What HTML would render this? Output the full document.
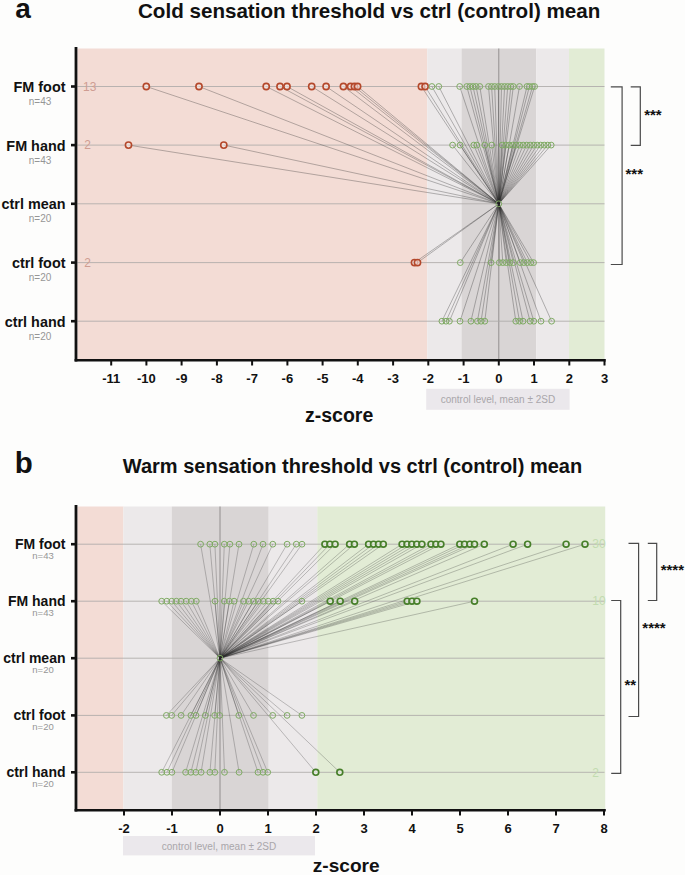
<!DOCTYPE html>
<html><head><meta charset="utf-8"><title>Thermal thresholds</title>
<style>html,body{margin:0;padding:0;background:#fdfdfc;}svg{display:block;}text{font-family:"Liberation Sans",sans-serif;}</style>
</head><body>
<svg width="685" height="875" viewBox="0 0 685 875" font-family="Liberation Sans, sans-serif">
<rect width="685" height="875" fill="#fdfdfc"/>
<rect x="77.5" y="48.5" width="349.8" height="310.5" fill="#f3dcd5"/>
<rect x="427.3" y="48.5" width="34.2" height="310.5" fill="#ece9ea"/>
<rect x="461.5" y="48.5" width="74.7" height="310.5" fill="#d9d5d5"/>
<rect x="536.2" y="48.5" width="32.8" height="310.5" fill="#ece9ea"/>
<rect x="569" y="48.5" width="35.5" height="310.5" fill="#e2ecd5"/>
<line x1="498.8" y1="48.5" x2="498.8" y2="359" stroke="#8a8686" stroke-width="0.9"/>
<line x1="77.5" y1="86.5" x2="604.5" y2="86.5" stroke="#aeaaa9" stroke-width="0.85"/>
<line x1="77.5" y1="145.1" x2="604.5" y2="145.1" stroke="#aeaaa9" stroke-width="0.85"/>
<line x1="77.5" y1="203.8" x2="604.5" y2="203.8" stroke="#aeaaa9" stroke-width="0.85"/>
<line x1="77.5" y1="262.6" x2="604.5" y2="262.6" stroke="#aeaaa9" stroke-width="0.85"/>
<line x1="77.5" y1="321.2" x2="604.5" y2="321.2" stroke="#aeaaa9" stroke-width="0.85"/>
<g stroke="#2a2a2a" stroke-width="0.6" stroke-opacity="0.55">
<line x1="146.3" y1="86.5" x2="498.8" y2="203.8"/>
<line x1="199" y1="86.5" x2="498.8" y2="203.8"/>
<line x1="266.2" y1="86.5" x2="498.8" y2="203.8"/>
<line x1="280" y1="86.5" x2="498.8" y2="203.8"/>
<line x1="287" y1="86.5" x2="498.8" y2="203.8"/>
<line x1="311.7" y1="86.5" x2="498.8" y2="203.8"/>
<line x1="326.1" y1="86.5" x2="498.8" y2="203.8"/>
<line x1="343.4" y1="86.5" x2="498.8" y2="203.8"/>
<line x1="350.6" y1="86.5" x2="498.8" y2="203.8"/>
<line x1="354.4" y1="86.5" x2="498.8" y2="203.8"/>
<line x1="357.6" y1="86.5" x2="498.8" y2="203.8"/>
<line x1="421.4" y1="86.5" x2="498.8" y2="203.8"/>
<line x1="425.1" y1="86.5" x2="498.8" y2="203.8"/>
<line x1="431.9" y1="86.5" x2="498.8" y2="203.8"/>
<line x1="438.8" y1="86.5" x2="498.8" y2="203.8"/>
<line x1="459.7" y1="86.5" x2="498.8" y2="203.8"/>
<line x1="466.8" y1="86.5" x2="498.8" y2="203.8"/>
<line x1="469.9" y1="86.5" x2="498.8" y2="203.8"/>
<line x1="473" y1="86.5" x2="498.8" y2="203.8"/>
<line x1="476.1" y1="86.5" x2="498.8" y2="203.8"/>
<line x1="479.8" y1="86.5" x2="498.8" y2="203.8"/>
<line x1="488.5" y1="86.5" x2="498.8" y2="203.8"/>
<line x1="491.6" y1="86.5" x2="498.8" y2="203.8"/>
<line x1="494.7" y1="86.5" x2="498.8" y2="203.8"/>
<line x1="498.4" y1="86.5" x2="498.8" y2="203.8"/>
<line x1="501.5" y1="86.5" x2="498.8" y2="203.8"/>
<line x1="504.6" y1="86.5" x2="498.8" y2="203.8"/>
<line x1="507.7" y1="86.5" x2="498.8" y2="203.8"/>
<line x1="510.8" y1="86.5" x2="498.8" y2="203.8"/>
<line x1="513.3" y1="86.5" x2="498.8" y2="203.8"/>
<line x1="519.5" y1="86.5" x2="498.8" y2="203.8"/>
<line x1="527" y1="86.5" x2="498.8" y2="203.8"/>
<line x1="529.4" y1="86.5" x2="498.8" y2="203.8"/>
<line x1="532.5" y1="86.5" x2="498.8" y2="203.8"/>
<line x1="534.6" y1="86.5" x2="498.8" y2="203.8"/>
<line x1="128.5" y1="145.1" x2="498.8" y2="203.8"/>
<line x1="223.8" y1="145.1" x2="498.8" y2="203.8"/>
<line x1="452.6" y1="145.1" x2="498.8" y2="203.8"/>
<line x1="460.1" y1="145.1" x2="498.8" y2="203.8"/>
<line x1="473.8" y1="145.1" x2="498.8" y2="203.8"/>
<line x1="476.8" y1="145.1" x2="498.8" y2="203.8"/>
<line x1="484.7" y1="145.1" x2="498.8" y2="203.8"/>
<line x1="491.7" y1="145.1" x2="498.8" y2="203.8"/>
<line x1="502.2" y1="145.1" x2="498.8" y2="203.8"/>
<line x1="505.7" y1="145.1" x2="498.8" y2="203.8"/>
<line x1="509.2" y1="145.1" x2="498.8" y2="203.8"/>
<line x1="512.7" y1="145.1" x2="498.8" y2="203.8"/>
<line x1="516.2" y1="145.1" x2="498.8" y2="203.8"/>
<line x1="519.7" y1="145.1" x2="498.8" y2="203.8"/>
<line x1="523.2" y1="145.1" x2="498.8" y2="203.8"/>
<line x1="526.7" y1="145.1" x2="498.8" y2="203.8"/>
<line x1="530.2" y1="145.1" x2="498.8" y2="203.8"/>
<line x1="533.7" y1="145.1" x2="498.8" y2="203.8"/>
<line x1="537.2" y1="145.1" x2="498.8" y2="203.8"/>
<line x1="540.7" y1="145.1" x2="498.8" y2="203.8"/>
<line x1="544.2" y1="145.1" x2="498.8" y2="203.8"/>
<line x1="547.7" y1="145.1" x2="498.8" y2="203.8"/>
<line x1="551.2" y1="145.1" x2="498.8" y2="203.8"/>
<line x1="414.5" y1="262.6" x2="498.8" y2="203.8"/>
<line x1="417.5" y1="262.6" x2="498.8" y2="203.8"/>
<line x1="460.3" y1="262.6" x2="498.8" y2="203.8"/>
<line x1="491.1" y1="262.6" x2="498.8" y2="203.8"/>
<line x1="499.3" y1="262.6" x2="498.8" y2="203.8"/>
<line x1="502.8" y1="262.6" x2="498.8" y2="203.8"/>
<line x1="506.3" y1="262.6" x2="498.8" y2="203.8"/>
<line x1="509.8" y1="262.6" x2="498.8" y2="203.8"/>
<line x1="513.3" y1="262.6" x2="498.8" y2="203.8"/>
<line x1="520.3" y1="262.6" x2="498.8" y2="203.8"/>
<line x1="523.8" y1="262.6" x2="498.8" y2="203.8"/>
<line x1="527.3" y1="262.6" x2="498.8" y2="203.8"/>
<line x1="530.8" y1="262.6" x2="498.8" y2="203.8"/>
<line x1="533.6" y1="262.6" x2="498.8" y2="203.8"/>
<line x1="441.9" y1="321.2" x2="498.8" y2="203.8"/>
<line x1="446" y1="321.2" x2="498.8" y2="203.8"/>
<line x1="449.4" y1="321.2" x2="498.8" y2="203.8"/>
<line x1="460" y1="321.2" x2="498.8" y2="203.8"/>
<line x1="470.9" y1="321.2" x2="498.8" y2="203.8"/>
<line x1="477.4" y1="321.2" x2="498.8" y2="203.8"/>
<line x1="481.1" y1="321.2" x2="498.8" y2="203.8"/>
<line x1="484.8" y1="321.2" x2="498.8" y2="203.8"/>
<line x1="515.8" y1="321.2" x2="498.8" y2="203.8"/>
<line x1="519.5" y1="321.2" x2="498.8" y2="203.8"/>
<line x1="523" y1="321.2" x2="498.8" y2="203.8"/>
<line x1="530.1" y1="321.2" x2="498.8" y2="203.8"/>
<line x1="533.8" y1="321.2" x2="498.8" y2="203.8"/>
<line x1="541" y1="321.2" x2="498.8" y2="203.8"/>
<line x1="551.6" y1="321.2" x2="498.8" y2="203.8"/>
</g>
<circle cx="146.3" cy="86.5" r="3.1" fill="#f6e8e4" fill-opacity="0.6" stroke="#b4482b" stroke-width="1.6"/>
<circle cx="199" cy="86.5" r="3.1" fill="#f6e8e4" fill-opacity="0.6" stroke="#b4482b" stroke-width="1.6"/>
<circle cx="266.2" cy="86.5" r="3.1" fill="#f6e8e4" fill-opacity="0.6" stroke="#b4482b" stroke-width="1.6"/>
<circle cx="280" cy="86.5" r="3.1" fill="#f6e8e4" fill-opacity="0.6" stroke="#b4482b" stroke-width="1.6"/>
<circle cx="287" cy="86.5" r="3.1" fill="#f6e8e4" fill-opacity="0.6" stroke="#b4482b" stroke-width="1.6"/>
<circle cx="311.7" cy="86.5" r="3.1" fill="#f6e8e4" fill-opacity="0.6" stroke="#b4482b" stroke-width="1.6"/>
<circle cx="326.1" cy="86.5" r="3.1" fill="#f6e8e4" fill-opacity="0.6" stroke="#b4482b" stroke-width="1.6"/>
<circle cx="343.4" cy="86.5" r="3.1" fill="#f6e8e4" fill-opacity="0.6" stroke="#b4482b" stroke-width="1.6"/>
<circle cx="350.6" cy="86.5" r="3.1" fill="#f6e8e4" fill-opacity="0.6" stroke="#b4482b" stroke-width="1.6"/>
<circle cx="354.4" cy="86.5" r="3.1" fill="#f6e8e4" fill-opacity="0.6" stroke="#b4482b" stroke-width="1.6"/>
<circle cx="357.6" cy="86.5" r="3.1" fill="#f6e8e4" fill-opacity="0.6" stroke="#b4482b" stroke-width="1.6"/>
<circle cx="421.4" cy="86.5" r="3.1" fill="#f6e8e4" fill-opacity="0.6" stroke="#b4482b" stroke-width="1.6"/>
<circle cx="425.1" cy="86.5" r="3.1" fill="#f6e8e4" fill-opacity="0.6" stroke="#b4482b" stroke-width="1.6"/>
<circle cx="431.9" cy="86.5" r="2.9" fill="none" stroke="#7eaa62" stroke-width="1"/>
<circle cx="438.8" cy="86.5" r="2.9" fill="none" stroke="#7eaa62" stroke-width="1"/>
<circle cx="459.7" cy="86.5" r="2.9" fill="none" stroke="#7eaa62" stroke-width="1"/>
<circle cx="466.8" cy="86.5" r="2.9" fill="none" stroke="#7eaa62" stroke-width="1"/>
<circle cx="469.9" cy="86.5" r="2.9" fill="none" stroke="#7eaa62" stroke-width="1"/>
<circle cx="473" cy="86.5" r="2.9" fill="none" stroke="#7eaa62" stroke-width="1"/>
<circle cx="476.1" cy="86.5" r="2.9" fill="none" stroke="#7eaa62" stroke-width="1"/>
<circle cx="479.8" cy="86.5" r="2.9" fill="none" stroke="#7eaa62" stroke-width="1"/>
<circle cx="488.5" cy="86.5" r="2.9" fill="none" stroke="#7eaa62" stroke-width="1"/>
<circle cx="491.6" cy="86.5" r="2.9" fill="none" stroke="#7eaa62" stroke-width="1"/>
<circle cx="494.7" cy="86.5" r="2.9" fill="none" stroke="#7eaa62" stroke-width="1"/>
<circle cx="498.4" cy="86.5" r="2.9" fill="none" stroke="#7eaa62" stroke-width="1"/>
<circle cx="501.5" cy="86.5" r="2.9" fill="none" stroke="#7eaa62" stroke-width="1"/>
<circle cx="504.6" cy="86.5" r="2.9" fill="none" stroke="#7eaa62" stroke-width="1"/>
<circle cx="507.7" cy="86.5" r="2.9" fill="none" stroke="#7eaa62" stroke-width="1"/>
<circle cx="510.8" cy="86.5" r="2.9" fill="none" stroke="#7eaa62" stroke-width="1"/>
<circle cx="513.3" cy="86.5" r="2.9" fill="none" stroke="#7eaa62" stroke-width="1"/>
<circle cx="519.5" cy="86.5" r="2.9" fill="none" stroke="#7eaa62" stroke-width="1"/>
<circle cx="527" cy="86.5" r="2.9" fill="none" stroke="#7eaa62" stroke-width="1"/>
<circle cx="529.4" cy="86.5" r="2.9" fill="none" stroke="#7eaa62" stroke-width="1"/>
<circle cx="532.5" cy="86.5" r="2.9" fill="none" stroke="#7eaa62" stroke-width="1"/>
<circle cx="534.6" cy="86.5" r="2.9" fill="none" stroke="#7eaa62" stroke-width="1"/>
<circle cx="128.5" cy="145.1" r="3.1" fill="#f6e8e4" fill-opacity="0.6" stroke="#b4482b" stroke-width="1.6"/>
<circle cx="223.8" cy="145.1" r="3.1" fill="#f6e8e4" fill-opacity="0.6" stroke="#b4482b" stroke-width="1.6"/>
<circle cx="452.6" cy="145.1" r="2.9" fill="none" stroke="#7eaa62" stroke-width="1"/>
<circle cx="460.1" cy="145.1" r="2.9" fill="none" stroke="#7eaa62" stroke-width="1"/>
<circle cx="473.8" cy="145.1" r="2.9" fill="none" stroke="#7eaa62" stroke-width="1"/>
<circle cx="476.8" cy="145.1" r="2.9" fill="none" stroke="#7eaa62" stroke-width="1"/>
<circle cx="484.7" cy="145.1" r="2.9" fill="none" stroke="#7eaa62" stroke-width="1"/>
<circle cx="491.7" cy="145.1" r="2.9" fill="none" stroke="#7eaa62" stroke-width="1"/>
<circle cx="502.2" cy="145.1" r="2.9" fill="none" stroke="#7eaa62" stroke-width="1"/>
<circle cx="505.7" cy="145.1" r="2.9" fill="none" stroke="#7eaa62" stroke-width="1"/>
<circle cx="509.2" cy="145.1" r="2.9" fill="none" stroke="#7eaa62" stroke-width="1"/>
<circle cx="512.7" cy="145.1" r="2.9" fill="none" stroke="#7eaa62" stroke-width="1"/>
<circle cx="516.2" cy="145.1" r="2.9" fill="none" stroke="#7eaa62" stroke-width="1"/>
<circle cx="519.7" cy="145.1" r="2.9" fill="none" stroke="#7eaa62" stroke-width="1"/>
<circle cx="523.2" cy="145.1" r="2.9" fill="none" stroke="#7eaa62" stroke-width="1"/>
<circle cx="526.7" cy="145.1" r="2.9" fill="none" stroke="#7eaa62" stroke-width="1"/>
<circle cx="530.2" cy="145.1" r="2.9" fill="none" stroke="#7eaa62" stroke-width="1"/>
<circle cx="533.7" cy="145.1" r="2.9" fill="none" stroke="#7eaa62" stroke-width="1"/>
<circle cx="537.2" cy="145.1" r="2.9" fill="none" stroke="#7eaa62" stroke-width="1"/>
<circle cx="540.7" cy="145.1" r="2.9" fill="none" stroke="#7eaa62" stroke-width="1"/>
<circle cx="544.2" cy="145.1" r="2.9" fill="none" stroke="#7eaa62" stroke-width="1"/>
<circle cx="547.7" cy="145.1" r="2.9" fill="none" stroke="#7eaa62" stroke-width="1"/>
<circle cx="551.2" cy="145.1" r="2.9" fill="none" stroke="#7eaa62" stroke-width="1"/>
<circle cx="414.5" cy="262.6" r="3.1" fill="#f6e8e4" fill-opacity="0.6" stroke="#b4482b" stroke-width="1.6"/>
<circle cx="417.5" cy="262.6" r="3.1" fill="#f6e8e4" fill-opacity="0.6" stroke="#b4482b" stroke-width="1.6"/>
<circle cx="460.3" cy="262.6" r="2.9" fill="none" stroke="#7eaa62" stroke-width="1"/>
<circle cx="491.1" cy="262.6" r="2.9" fill="none" stroke="#7eaa62" stroke-width="1"/>
<circle cx="499.3" cy="262.6" r="2.9" fill="none" stroke="#7eaa62" stroke-width="1"/>
<circle cx="502.8" cy="262.6" r="2.9" fill="none" stroke="#7eaa62" stroke-width="1"/>
<circle cx="506.3" cy="262.6" r="2.9" fill="none" stroke="#7eaa62" stroke-width="1"/>
<circle cx="509.8" cy="262.6" r="2.9" fill="none" stroke="#7eaa62" stroke-width="1"/>
<circle cx="513.3" cy="262.6" r="2.9" fill="none" stroke="#7eaa62" stroke-width="1"/>
<circle cx="520.3" cy="262.6" r="2.9" fill="none" stroke="#7eaa62" stroke-width="1"/>
<circle cx="523.8" cy="262.6" r="2.9" fill="none" stroke="#7eaa62" stroke-width="1"/>
<circle cx="527.3" cy="262.6" r="2.9" fill="none" stroke="#7eaa62" stroke-width="1"/>
<circle cx="530.8" cy="262.6" r="2.9" fill="none" stroke="#7eaa62" stroke-width="1"/>
<circle cx="533.6" cy="262.6" r="2.9" fill="none" stroke="#7eaa62" stroke-width="1"/>
<circle cx="441.9" cy="321.2" r="2.9" fill="none" stroke="#7eaa62" stroke-width="1"/>
<circle cx="446" cy="321.2" r="2.9" fill="none" stroke="#7eaa62" stroke-width="1"/>
<circle cx="449.4" cy="321.2" r="2.9" fill="none" stroke="#7eaa62" stroke-width="1"/>
<circle cx="460" cy="321.2" r="2.9" fill="none" stroke="#7eaa62" stroke-width="1"/>
<circle cx="470.9" cy="321.2" r="2.9" fill="none" stroke="#7eaa62" stroke-width="1"/>
<circle cx="477.4" cy="321.2" r="2.9" fill="none" stroke="#7eaa62" stroke-width="1"/>
<circle cx="481.1" cy="321.2" r="2.9" fill="none" stroke="#7eaa62" stroke-width="1"/>
<circle cx="484.8" cy="321.2" r="2.9" fill="none" stroke="#7eaa62" stroke-width="1"/>
<circle cx="515.8" cy="321.2" r="2.9" fill="none" stroke="#7eaa62" stroke-width="1"/>
<circle cx="519.5" cy="321.2" r="2.9" fill="none" stroke="#7eaa62" stroke-width="1"/>
<circle cx="523" cy="321.2" r="2.9" fill="none" stroke="#7eaa62" stroke-width="1"/>
<circle cx="530.1" cy="321.2" r="2.9" fill="none" stroke="#7eaa62" stroke-width="1"/>
<circle cx="533.8" cy="321.2" r="2.9" fill="none" stroke="#7eaa62" stroke-width="1"/>
<circle cx="541" cy="321.2" r="2.9" fill="none" stroke="#7eaa62" stroke-width="1"/>
<circle cx="551.6" cy="321.2" r="2.9" fill="none" stroke="#7eaa62" stroke-width="1"/>
<circle cx="498.8" cy="203.8" r="2.9" fill="none" stroke="#7eaa62" stroke-width="1"/>
<text x="83" y="90.7" font-size="12" fill="#cf9d92">13</text>
<text x="84.3" y="149.29999999999998" font-size="12" fill="#cf9d92">2</text>
<text x="84.3" y="266.8" font-size="12" fill="#cf9d92">2</text>
<line x1="76" y1="47.0" x2="76" y2="361.5" stroke="#111" stroke-width="2.8"/>
<line x1="74.6" y1="360.3" x2="605.8" y2="360.3" stroke="#111" stroke-width="2.6"/>
<line x1="71" y1="86.5" x2="76" y2="86.5" stroke="#111" stroke-width="2.6"/>
<text x="65.5" y="91.9" font-size="14.4" font-weight="bold" fill="#111" text-anchor="end">FM foot</text>
<text x="40" y="105.1" font-size="10" fill="#969696" text-anchor="middle">n=43</text>
<line x1="71" y1="145.1" x2="76" y2="145.1" stroke="#111" stroke-width="2.6"/>
<text x="65.5" y="150.5" font-size="14.4" font-weight="bold" fill="#111" text-anchor="end">FM hand</text>
<text x="40" y="163.7" font-size="10" fill="#969696" text-anchor="middle">n=43</text>
<line x1="71" y1="203.8" x2="76" y2="203.8" stroke="#111" stroke-width="2.6"/>
<text x="65.5" y="209.20000000000002" font-size="14.4" font-weight="bold" fill="#111" text-anchor="end">ctrl mean</text>
<text x="40" y="222.4" font-size="10" fill="#969696" text-anchor="middle">n=20</text>
<line x1="71" y1="262.6" x2="76" y2="262.6" stroke="#111" stroke-width="2.6"/>
<text x="65.5" y="268.0" font-size="14.4" font-weight="bold" fill="#111" text-anchor="end">ctrl foot</text>
<text x="40" y="281.20000000000005" font-size="10" fill="#969696" text-anchor="middle">n=20</text>
<line x1="71" y1="321.2" x2="76" y2="321.2" stroke="#111" stroke-width="2.6"/>
<text x="65.5" y="326.59999999999997" font-size="14.4" font-weight="bold" fill="#111" text-anchor="end">ctrl hand</text>
<text x="40" y="339.8" font-size="10" fill="#969696" text-anchor="middle">n=20</text>
<line x1="111.2" y1="361" x2="111.2" y2="365.5" stroke="#111" stroke-width="2"/>
<text x="111.2" y="383" font-size="13" font-weight="bold" fill="#111" text-anchor="middle">-11</text>
<line x1="146.4" y1="361" x2="146.4" y2="365.5" stroke="#111" stroke-width="2"/>
<text x="146.4" y="383" font-size="13" font-weight="bold" fill="#111" text-anchor="middle">-10</text>
<line x1="181.6" y1="361" x2="181.6" y2="365.5" stroke="#111" stroke-width="2"/>
<text x="181.6" y="383" font-size="13" font-weight="bold" fill="#111" text-anchor="middle">-9</text>
<line x1="216.9" y1="361" x2="216.9" y2="365.5" stroke="#111" stroke-width="2"/>
<text x="216.9" y="383" font-size="13" font-weight="bold" fill="#111" text-anchor="middle">-8</text>
<line x1="252.1" y1="361" x2="252.1" y2="365.5" stroke="#111" stroke-width="2"/>
<text x="252.1" y="383" font-size="13" font-weight="bold" fill="#111" text-anchor="middle">-7</text>
<line x1="287.4" y1="361" x2="287.4" y2="365.5" stroke="#111" stroke-width="2"/>
<text x="287.4" y="383" font-size="13" font-weight="bold" fill="#111" text-anchor="middle">-6</text>
<line x1="322.6" y1="361" x2="322.6" y2="365.5" stroke="#111" stroke-width="2"/>
<text x="322.6" y="383" font-size="13" font-weight="bold" fill="#111" text-anchor="middle">-5</text>
<line x1="357.8" y1="361" x2="357.8" y2="365.5" stroke="#111" stroke-width="2"/>
<text x="357.8" y="383" font-size="13" font-weight="bold" fill="#111" text-anchor="middle">-4</text>
<line x1="393.1" y1="361" x2="393.1" y2="365.5" stroke="#111" stroke-width="2"/>
<text x="393.1" y="383" font-size="13" font-weight="bold" fill="#111" text-anchor="middle">-3</text>
<line x1="428.3" y1="361" x2="428.3" y2="365.5" stroke="#111" stroke-width="2"/>
<text x="428.3" y="383" font-size="13" font-weight="bold" fill="#111" text-anchor="middle">-2</text>
<line x1="463.6" y1="361" x2="463.6" y2="365.5" stroke="#111" stroke-width="2"/>
<text x="463.6" y="383" font-size="13" font-weight="bold" fill="#111" text-anchor="middle">-1</text>
<line x1="498.8" y1="361" x2="498.8" y2="365.5" stroke="#111" stroke-width="2"/>
<text x="498.8" y="383" font-size="13" font-weight="bold" fill="#111" text-anchor="middle">0</text>
<line x1="534.0" y1="361" x2="534.0" y2="365.5" stroke="#111" stroke-width="2"/>
<text x="534.0" y="383" font-size="13" font-weight="bold" fill="#111" text-anchor="middle">1</text>
<line x1="569.3" y1="361" x2="569.3" y2="365.5" stroke="#111" stroke-width="2"/>
<text x="569.3" y="383" font-size="13" font-weight="bold" fill="#111" text-anchor="middle">2</text>
<line x1="604.5" y1="361" x2="604.5" y2="365.5" stroke="#111" stroke-width="2"/>
<text x="604.5" y="383" font-size="13" font-weight="bold" fill="#111" text-anchor="middle">3</text>
<rect x="426.2" y="388.8" width="143.4" height="21.0" fill="#ebe8ec"/>
<text x="497.9" y="402.8" font-size="10" fill="#a9a6aa" text-anchor="middle">control level, mean ± 2SD</text>
<text x="305" y="422" font-size="19.5" font-weight="bold" fill="#111">z-score</text>
<text x="15.2" y="17.5" font-size="28" font-weight="bold" fill="#111">a</text>
<text x="138" y="17.5" font-size="20.6" font-weight="bold" fill="#111">Cold sensation threshold vs ctrl (control) mean</text>
<path d="M610.8 86.8 H622.1 V264.5 H610.8" fill="none" stroke="#4a4a4a" stroke-width="1.2"/>
<text x="625.5" y="179.20000000000002" font-size="15" font-weight="bold" fill="#111">***</text>
<path d="M630.7 86.8 H640.3 V145.4 H630.7" fill="none" stroke="#4a4a4a" stroke-width="1.2"/>
<text x="644.2" y="120.2" font-size="15" font-weight="bold" fill="#111">***</text>
<rect x="77.5" y="506.5" width="45.9" height="302.5" fill="#f3dcd5"/>
<rect x="123.4" y="506.5" width="48.3" height="302.5" fill="#ece9ea"/>
<rect x="171.7" y="506.5" width="97.0" height="302.5" fill="#d9d5d5"/>
<rect x="268.7" y="506.5" width="48.6" height="302.5" fill="#ece9ea"/>
<rect x="317.3" y="506.5" width="287.9" height="302.5" fill="#e2ecd5"/>
<line x1="220.0" y1="506.5" x2="220.0" y2="809" stroke="#8a8686" stroke-width="0.9"/>
<line x1="77.5" y1="544.2" x2="604.5" y2="544.2" stroke="#aeaaa9" stroke-width="0.85"/>
<line x1="77.5" y1="601.2" x2="604.5" y2="601.2" stroke="#aeaaa9" stroke-width="0.85"/>
<line x1="77.5" y1="658.2" x2="604.5" y2="658.2" stroke="#aeaaa9" stroke-width="0.85"/>
<line x1="77.5" y1="715.4" x2="604.5" y2="715.4" stroke="#aeaaa9" stroke-width="0.85"/>
<line x1="77.5" y1="772.3" x2="604.5" y2="772.3" stroke="#aeaaa9" stroke-width="0.85"/>
<g stroke="#2a2a2a" stroke-width="0.6" stroke-opacity="0.45">
<line x1="200.6" y1="544.2" x2="220.0" y2="658.2"/>
<line x1="209.8" y1="544.2" x2="220.0" y2="658.2"/>
<line x1="214.9" y1="544.2" x2="220.0" y2="658.2"/>
<line x1="224.3" y1="544.2" x2="220.0" y2="658.2"/>
<line x1="229.9" y1="544.2" x2="220.0" y2="658.2"/>
<line x1="239" y1="544.2" x2="220.0" y2="658.2"/>
<line x1="253.8" y1="544.2" x2="220.0" y2="658.2"/>
<line x1="263" y1="544.2" x2="220.0" y2="658.2"/>
<line x1="272.8" y1="544.2" x2="220.0" y2="658.2"/>
<line x1="287.1" y1="544.2" x2="220.0" y2="658.2"/>
<line x1="296.3" y1="544.2" x2="220.0" y2="658.2"/>
<line x1="302" y1="544.2" x2="220.0" y2="658.2"/>
<line x1="324.9" y1="544.2" x2="220.0" y2="658.2"/>
<line x1="329.9" y1="544.2" x2="220.0" y2="658.2"/>
<line x1="335.1" y1="544.2" x2="220.0" y2="658.2"/>
<line x1="349.6" y1="544.2" x2="220.0" y2="658.2"/>
<line x1="354.4" y1="544.2" x2="220.0" y2="658.2"/>
<line x1="368.6" y1="544.2" x2="220.0" y2="658.2"/>
<line x1="373.5" y1="544.2" x2="220.0" y2="658.2"/>
<line x1="378.5" y1="544.2" x2="220.0" y2="658.2"/>
<line x1="383.3" y1="544.2" x2="220.0" y2="658.2"/>
<line x1="402.1" y1="544.2" x2="220.0" y2="658.2"/>
<line x1="407" y1="544.2" x2="220.0" y2="658.2"/>
<line x1="411.8" y1="544.2" x2="220.0" y2="658.2"/>
<line x1="416.8" y1="544.2" x2="220.0" y2="658.2"/>
<line x1="421.9" y1="544.2" x2="220.0" y2="658.2"/>
<line x1="431" y1="544.2" x2="220.0" y2="658.2"/>
<line x1="435.9" y1="544.2" x2="220.0" y2="658.2"/>
<line x1="440.9" y1="544.2" x2="220.0" y2="658.2"/>
<line x1="459.8" y1="544.2" x2="220.0" y2="658.2"/>
<line x1="464.5" y1="544.2" x2="220.0" y2="658.2"/>
<line x1="469.9" y1="544.2" x2="220.0" y2="658.2"/>
<line x1="474.5" y1="544.2" x2="220.0" y2="658.2"/>
<line x1="484.3" y1="544.2" x2="220.0" y2="658.2"/>
<line x1="513.1" y1="544.2" x2="220.0" y2="658.2"/>
<line x1="527.6" y1="544.2" x2="220.0" y2="658.2"/>
<line x1="566.1" y1="544.2" x2="220.0" y2="658.2"/>
<line x1="585" y1="544.2" x2="220.0" y2="658.2"/>
<line x1="161.7" y1="601.2" x2="220.0" y2="658.2"/>
<line x1="166.8" y1="601.2" x2="220.0" y2="658.2"/>
<line x1="171.7" y1="601.2" x2="220.0" y2="658.2"/>
<line x1="176.4" y1="601.2" x2="220.0" y2="658.2"/>
<line x1="181.1" y1="601.2" x2="220.0" y2="658.2"/>
<line x1="186.2" y1="601.2" x2="220.0" y2="658.2"/>
<line x1="191.4" y1="601.2" x2="220.0" y2="658.2"/>
<line x1="196.3" y1="601.2" x2="220.0" y2="658.2"/>
<line x1="215" y1="601.2" x2="220.0" y2="658.2"/>
<line x1="224.3" y1="601.2" x2="220.0" y2="658.2"/>
<line x1="229.4" y1="601.2" x2="220.0" y2="658.2"/>
<line x1="234.1" y1="601.2" x2="220.0" y2="658.2"/>
<line x1="243.5" y1="601.2" x2="220.0" y2="658.2"/>
<line x1="248.6" y1="601.2" x2="220.0" y2="658.2"/>
<line x1="253.5" y1="601.2" x2="220.0" y2="658.2"/>
<line x1="258.2" y1="601.2" x2="220.0" y2="658.2"/>
<line x1="263.3" y1="601.2" x2="220.0" y2="658.2"/>
<line x1="268.2" y1="601.2" x2="220.0" y2="658.2"/>
<line x1="273.1" y1="601.2" x2="220.0" y2="658.2"/>
<line x1="278" y1="601.2" x2="220.0" y2="658.2"/>
<line x1="301.9" y1="601.2" x2="220.0" y2="658.2"/>
<line x1="330.2" y1="601.2" x2="220.0" y2="658.2"/>
<line x1="340.2" y1="601.2" x2="220.0" y2="658.2"/>
<line x1="354.7" y1="601.2" x2="220.0" y2="658.2"/>
<line x1="407.2" y1="601.2" x2="220.0" y2="658.2"/>
<line x1="411.9" y1="601.2" x2="220.0" y2="658.2"/>
<line x1="416.9" y1="601.2" x2="220.0" y2="658.2"/>
<line x1="474.5" y1="601.2" x2="220.0" y2="658.2"/>
<line x1="166.4" y1="715.4" x2="220.0" y2="658.2"/>
<line x1="171.7" y1="715.4" x2="220.0" y2="658.2"/>
<line x1="181.1" y1="715.4" x2="220.0" y2="658.2"/>
<line x1="190.9" y1="715.4" x2="220.0" y2="658.2"/>
<line x1="196" y1="715.4" x2="220.0" y2="658.2"/>
<line x1="205.4" y1="715.4" x2="220.0" y2="658.2"/>
<line x1="214.7" y1="715.4" x2="220.0" y2="658.2"/>
<line x1="219.6" y1="715.4" x2="220.0" y2="658.2"/>
<line x1="238.8" y1="715.4" x2="220.0" y2="658.2"/>
<line x1="253.5" y1="715.4" x2="220.0" y2="658.2"/>
<line x1="272.7" y1="715.4" x2="220.0" y2="658.2"/>
<line x1="287.1" y1="715.4" x2="220.0" y2="658.2"/>
<line x1="301.9" y1="715.4" x2="220.0" y2="658.2"/>
<line x1="161.7" y1="772.3" x2="220.0" y2="658.2"/>
<line x1="166.9" y1="772.3" x2="220.0" y2="658.2"/>
<line x1="171.9" y1="772.3" x2="220.0" y2="658.2"/>
<line x1="185.6" y1="772.3" x2="220.0" y2="658.2"/>
<line x1="190.9" y1="772.3" x2="220.0" y2="658.2"/>
<line x1="195.8" y1="772.3" x2="220.0" y2="658.2"/>
<line x1="201.1" y1="772.3" x2="220.0" y2="658.2"/>
<line x1="209.9" y1="772.3" x2="220.0" y2="658.2"/>
<line x1="214.8" y1="772.3" x2="220.0" y2="658.2"/>
<line x1="224.5" y1="772.3" x2="220.0" y2="658.2"/>
<line x1="239.1" y1="772.3" x2="220.0" y2="658.2"/>
<line x1="258" y1="772.3" x2="220.0" y2="658.2"/>
<line x1="263" y1="772.3" x2="220.0" y2="658.2"/>
<line x1="267.7" y1="772.3" x2="220.0" y2="658.2"/>
<line x1="315.8" y1="772.3" x2="220.0" y2="658.2"/>
<line x1="339.8" y1="772.3" x2="220.0" y2="658.2"/>
</g>
<circle cx="200.6" cy="544.2" r="2.9" fill="none" stroke="#7eaa62" stroke-width="1"/>
<circle cx="209.8" cy="544.2" r="2.9" fill="none" stroke="#7eaa62" stroke-width="1"/>
<circle cx="214.9" cy="544.2" r="2.9" fill="none" stroke="#7eaa62" stroke-width="1"/>
<circle cx="224.3" cy="544.2" r="2.9" fill="none" stroke="#7eaa62" stroke-width="1"/>
<circle cx="229.9" cy="544.2" r="2.9" fill="none" stroke="#7eaa62" stroke-width="1"/>
<circle cx="239" cy="544.2" r="2.9" fill="none" stroke="#7eaa62" stroke-width="1"/>
<circle cx="253.8" cy="544.2" r="2.9" fill="none" stroke="#7eaa62" stroke-width="1"/>
<circle cx="263" cy="544.2" r="2.9" fill="none" stroke="#7eaa62" stroke-width="1"/>
<circle cx="272.8" cy="544.2" r="2.9" fill="none" stroke="#7eaa62" stroke-width="1"/>
<circle cx="287.1" cy="544.2" r="2.9" fill="none" stroke="#7eaa62" stroke-width="1"/>
<circle cx="296.3" cy="544.2" r="2.9" fill="none" stroke="#7eaa62" stroke-width="1"/>
<circle cx="302" cy="544.2" r="2.9" fill="none" stroke="#7eaa62" stroke-width="1"/>
<circle cx="324.9" cy="544.2" r="2.95" fill="#eef4e8" fill-opacity="0.6" stroke="#477f2a" stroke-width="1.65"/>
<circle cx="329.9" cy="544.2" r="2.95" fill="#eef4e8" fill-opacity="0.6" stroke="#477f2a" stroke-width="1.65"/>
<circle cx="335.1" cy="544.2" r="2.95" fill="#eef4e8" fill-opacity="0.6" stroke="#477f2a" stroke-width="1.65"/>
<circle cx="349.6" cy="544.2" r="2.95" fill="#eef4e8" fill-opacity="0.6" stroke="#477f2a" stroke-width="1.65"/>
<circle cx="354.4" cy="544.2" r="2.95" fill="#eef4e8" fill-opacity="0.6" stroke="#477f2a" stroke-width="1.65"/>
<circle cx="368.6" cy="544.2" r="2.95" fill="#eef4e8" fill-opacity="0.6" stroke="#477f2a" stroke-width="1.65"/>
<circle cx="373.5" cy="544.2" r="2.95" fill="#eef4e8" fill-opacity="0.6" stroke="#477f2a" stroke-width="1.65"/>
<circle cx="378.5" cy="544.2" r="2.95" fill="#eef4e8" fill-opacity="0.6" stroke="#477f2a" stroke-width="1.65"/>
<circle cx="383.3" cy="544.2" r="2.95" fill="#eef4e8" fill-opacity="0.6" stroke="#477f2a" stroke-width="1.65"/>
<circle cx="402.1" cy="544.2" r="2.95" fill="#eef4e8" fill-opacity="0.6" stroke="#477f2a" stroke-width="1.65"/>
<circle cx="407" cy="544.2" r="2.95" fill="#eef4e8" fill-opacity="0.6" stroke="#477f2a" stroke-width="1.65"/>
<circle cx="411.8" cy="544.2" r="2.95" fill="#eef4e8" fill-opacity="0.6" stroke="#477f2a" stroke-width="1.65"/>
<circle cx="416.8" cy="544.2" r="2.95" fill="#eef4e8" fill-opacity="0.6" stroke="#477f2a" stroke-width="1.65"/>
<circle cx="421.9" cy="544.2" r="2.95" fill="#eef4e8" fill-opacity="0.6" stroke="#477f2a" stroke-width="1.65"/>
<circle cx="431" cy="544.2" r="2.95" fill="#eef4e8" fill-opacity="0.6" stroke="#477f2a" stroke-width="1.65"/>
<circle cx="435.9" cy="544.2" r="2.95" fill="#eef4e8" fill-opacity="0.6" stroke="#477f2a" stroke-width="1.65"/>
<circle cx="440.9" cy="544.2" r="2.95" fill="#eef4e8" fill-opacity="0.6" stroke="#477f2a" stroke-width="1.65"/>
<circle cx="459.8" cy="544.2" r="2.95" fill="#eef4e8" fill-opacity="0.6" stroke="#477f2a" stroke-width="1.65"/>
<circle cx="464.5" cy="544.2" r="2.95" fill="#eef4e8" fill-opacity="0.6" stroke="#477f2a" stroke-width="1.65"/>
<circle cx="469.9" cy="544.2" r="2.95" fill="#eef4e8" fill-opacity="0.6" stroke="#477f2a" stroke-width="1.65"/>
<circle cx="474.5" cy="544.2" r="2.95" fill="#eef4e8" fill-opacity="0.6" stroke="#477f2a" stroke-width="1.65"/>
<circle cx="484.3" cy="544.2" r="2.95" fill="#eef4e8" fill-opacity="0.6" stroke="#477f2a" stroke-width="1.65"/>
<circle cx="513.1" cy="544.2" r="2.95" fill="#eef4e8" fill-opacity="0.6" stroke="#477f2a" stroke-width="1.65"/>
<circle cx="527.6" cy="544.2" r="2.95" fill="#eef4e8" fill-opacity="0.6" stroke="#477f2a" stroke-width="1.65"/>
<circle cx="566.1" cy="544.2" r="2.95" fill="#eef4e8" fill-opacity="0.6" stroke="#477f2a" stroke-width="1.65"/>
<circle cx="585" cy="544.2" r="2.95" fill="#eef4e8" fill-opacity="0.6" stroke="#477f2a" stroke-width="1.65"/>
<circle cx="161.7" cy="601.2" r="2.9" fill="none" stroke="#7eaa62" stroke-width="1"/>
<circle cx="166.8" cy="601.2" r="2.9" fill="none" stroke="#7eaa62" stroke-width="1"/>
<circle cx="171.7" cy="601.2" r="2.9" fill="none" stroke="#7eaa62" stroke-width="1"/>
<circle cx="176.4" cy="601.2" r="2.9" fill="none" stroke="#7eaa62" stroke-width="1"/>
<circle cx="181.1" cy="601.2" r="2.9" fill="none" stroke="#7eaa62" stroke-width="1"/>
<circle cx="186.2" cy="601.2" r="2.9" fill="none" stroke="#7eaa62" stroke-width="1"/>
<circle cx="191.4" cy="601.2" r="2.9" fill="none" stroke="#7eaa62" stroke-width="1"/>
<circle cx="196.3" cy="601.2" r="2.9" fill="none" stroke="#7eaa62" stroke-width="1"/>
<circle cx="215" cy="601.2" r="2.9" fill="none" stroke="#7eaa62" stroke-width="1"/>
<circle cx="224.3" cy="601.2" r="2.9" fill="none" stroke="#7eaa62" stroke-width="1"/>
<circle cx="229.4" cy="601.2" r="2.9" fill="none" stroke="#7eaa62" stroke-width="1"/>
<circle cx="234.1" cy="601.2" r="2.9" fill="none" stroke="#7eaa62" stroke-width="1"/>
<circle cx="243.5" cy="601.2" r="2.9" fill="none" stroke="#7eaa62" stroke-width="1"/>
<circle cx="248.6" cy="601.2" r="2.9" fill="none" stroke="#7eaa62" stroke-width="1"/>
<circle cx="253.5" cy="601.2" r="2.9" fill="none" stroke="#7eaa62" stroke-width="1"/>
<circle cx="258.2" cy="601.2" r="2.9" fill="none" stroke="#7eaa62" stroke-width="1"/>
<circle cx="263.3" cy="601.2" r="2.9" fill="none" stroke="#7eaa62" stroke-width="1"/>
<circle cx="268.2" cy="601.2" r="2.9" fill="none" stroke="#7eaa62" stroke-width="1"/>
<circle cx="273.1" cy="601.2" r="2.9" fill="none" stroke="#7eaa62" stroke-width="1"/>
<circle cx="278" cy="601.2" r="2.9" fill="none" stroke="#7eaa62" stroke-width="1"/>
<circle cx="301.9" cy="601.2" r="2.9" fill="none" stroke="#7eaa62" stroke-width="1"/>
<circle cx="330.2" cy="601.2" r="2.95" fill="#eef4e8" fill-opacity="0.6" stroke="#477f2a" stroke-width="1.65"/>
<circle cx="340.2" cy="601.2" r="2.95" fill="#eef4e8" fill-opacity="0.6" stroke="#477f2a" stroke-width="1.65"/>
<circle cx="354.7" cy="601.2" r="2.95" fill="#eef4e8" fill-opacity="0.6" stroke="#477f2a" stroke-width="1.65"/>
<circle cx="407.2" cy="601.2" r="2.95" fill="#eef4e8" fill-opacity="0.6" stroke="#477f2a" stroke-width="1.65"/>
<circle cx="411.9" cy="601.2" r="2.95" fill="#eef4e8" fill-opacity="0.6" stroke="#477f2a" stroke-width="1.65"/>
<circle cx="416.9" cy="601.2" r="2.95" fill="#eef4e8" fill-opacity="0.6" stroke="#477f2a" stroke-width="1.65"/>
<circle cx="474.5" cy="601.2" r="2.95" fill="#eef4e8" fill-opacity="0.6" stroke="#477f2a" stroke-width="1.65"/>
<circle cx="166.4" cy="715.4" r="2.9" fill="none" stroke="#7eaa62" stroke-width="1"/>
<circle cx="171.7" cy="715.4" r="2.9" fill="none" stroke="#7eaa62" stroke-width="1"/>
<circle cx="181.1" cy="715.4" r="2.9" fill="none" stroke="#7eaa62" stroke-width="1"/>
<circle cx="190.9" cy="715.4" r="2.9" fill="none" stroke="#7eaa62" stroke-width="1"/>
<circle cx="196" cy="715.4" r="2.9" fill="none" stroke="#7eaa62" stroke-width="1"/>
<circle cx="205.4" cy="715.4" r="2.9" fill="none" stroke="#7eaa62" stroke-width="1"/>
<circle cx="214.7" cy="715.4" r="2.9" fill="none" stroke="#7eaa62" stroke-width="1"/>
<circle cx="219.6" cy="715.4" r="2.9" fill="none" stroke="#7eaa62" stroke-width="1"/>
<circle cx="238.8" cy="715.4" r="2.9" fill="none" stroke="#7eaa62" stroke-width="1"/>
<circle cx="253.5" cy="715.4" r="2.9" fill="none" stroke="#7eaa62" stroke-width="1"/>
<circle cx="272.7" cy="715.4" r="2.9" fill="none" stroke="#7eaa62" stroke-width="1"/>
<circle cx="287.1" cy="715.4" r="2.9" fill="none" stroke="#7eaa62" stroke-width="1"/>
<circle cx="301.9" cy="715.4" r="2.9" fill="none" stroke="#7eaa62" stroke-width="1"/>
<circle cx="161.7" cy="772.3" r="2.9" fill="none" stroke="#7eaa62" stroke-width="1"/>
<circle cx="166.9" cy="772.3" r="2.9" fill="none" stroke="#7eaa62" stroke-width="1"/>
<circle cx="171.9" cy="772.3" r="2.9" fill="none" stroke="#7eaa62" stroke-width="1"/>
<circle cx="185.6" cy="772.3" r="2.9" fill="none" stroke="#7eaa62" stroke-width="1"/>
<circle cx="190.9" cy="772.3" r="2.9" fill="none" stroke="#7eaa62" stroke-width="1"/>
<circle cx="195.8" cy="772.3" r="2.9" fill="none" stroke="#7eaa62" stroke-width="1"/>
<circle cx="201.1" cy="772.3" r="2.9" fill="none" stroke="#7eaa62" stroke-width="1"/>
<circle cx="209.9" cy="772.3" r="2.9" fill="none" stroke="#7eaa62" stroke-width="1"/>
<circle cx="214.8" cy="772.3" r="2.9" fill="none" stroke="#7eaa62" stroke-width="1"/>
<circle cx="224.5" cy="772.3" r="2.9" fill="none" stroke="#7eaa62" stroke-width="1"/>
<circle cx="239.1" cy="772.3" r="2.9" fill="none" stroke="#7eaa62" stroke-width="1"/>
<circle cx="258" cy="772.3" r="2.9" fill="none" stroke="#7eaa62" stroke-width="1"/>
<circle cx="263" cy="772.3" r="2.9" fill="none" stroke="#7eaa62" stroke-width="1"/>
<circle cx="267.7" cy="772.3" r="2.9" fill="none" stroke="#7eaa62" stroke-width="1"/>
<circle cx="315.8" cy="772.3" r="2.95" fill="#eef4e8" fill-opacity="0.6" stroke="#477f2a" stroke-width="1.65"/>
<circle cx="339.8" cy="772.3" r="2.95" fill="#eef4e8" fill-opacity="0.6" stroke="#477f2a" stroke-width="1.65"/>
<circle cx="220.0" cy="658.2" r="2.9" fill="none" stroke="#7eaa62" stroke-width="1"/>
<text x="592.3" y="548.4000000000001" font-size="12" fill="#c2dbb0">30</text>
<text x="592.3" y="605.4000000000001" font-size="12" fill="#c2dbb0">10</text>
<text x="592.3" y="776.5" font-size="12" fill="#c2dbb0">2</text>
<line x1="76" y1="505.0" x2="76" y2="811.5" stroke="#111" stroke-width="2.8"/>
<line x1="74.6" y1="810.3" x2="605.8" y2="810.3" stroke="#111" stroke-width="2.6"/>
<line x1="71" y1="544.2" x2="76" y2="544.2" stroke="#111" stroke-width="2.6"/>
<text x="65.5" y="548.9000000000001" font-size="14" font-weight="bold" fill="#111" text-anchor="end">FM foot</text>
<text x="43" y="559.0" font-size="9.5" fill="#969696" text-anchor="middle">n=43</text>
<line x1="71" y1="601.2" x2="76" y2="601.2" stroke="#111" stroke-width="2.6"/>
<text x="65.5" y="605.9000000000001" font-size="14" font-weight="bold" fill="#111" text-anchor="end">FM hand</text>
<text x="43" y="616.0" font-size="9.5" fill="#969696" text-anchor="middle">n=43</text>
<line x1="71" y1="658.2" x2="76" y2="658.2" stroke="#111" stroke-width="2.6"/>
<text x="65.5" y="662.9000000000001" font-size="14" font-weight="bold" fill="#111" text-anchor="end">ctrl mean</text>
<text x="43" y="673.0" font-size="9.5" fill="#969696" text-anchor="middle">n=20</text>
<line x1="71" y1="715.4" x2="76" y2="715.4" stroke="#111" stroke-width="2.6"/>
<text x="65.5" y="720.1" font-size="14" font-weight="bold" fill="#111" text-anchor="end">ctrl foot</text>
<text x="43" y="730.1999999999999" font-size="9.5" fill="#969696" text-anchor="middle">n=20</text>
<line x1="71" y1="772.3" x2="76" y2="772.3" stroke="#111" stroke-width="2.6"/>
<text x="65.5" y="777.0" font-size="14" font-weight="bold" fill="#111" text-anchor="end">ctrl hand</text>
<text x="43" y="787.0999999999999" font-size="9.5" fill="#969696" text-anchor="middle">n=20</text>
<line x1="124.0" y1="811" x2="124.0" y2="815.5" stroke="#111" stroke-width="2"/>
<text x="124.0" y="833" font-size="13" font-weight="bold" fill="#111" text-anchor="middle">-2</text>
<line x1="172.0" y1="811" x2="172.0" y2="815.5" stroke="#111" stroke-width="2"/>
<text x="172.0" y="833" font-size="13" font-weight="bold" fill="#111" text-anchor="middle">-1</text>
<line x1="220.0" y1="811" x2="220.0" y2="815.5" stroke="#111" stroke-width="2"/>
<text x="220.0" y="833" font-size="13" font-weight="bold" fill="#111" text-anchor="middle">0</text>
<line x1="268.0" y1="811" x2="268.0" y2="815.5" stroke="#111" stroke-width="2"/>
<text x="268.0" y="833" font-size="13" font-weight="bold" fill="#111" text-anchor="middle">1</text>
<line x1="316.0" y1="811" x2="316.0" y2="815.5" stroke="#111" stroke-width="2"/>
<text x="316.0" y="833" font-size="13" font-weight="bold" fill="#111" text-anchor="middle">2</text>
<line x1="364.0" y1="811" x2="364.0" y2="815.5" stroke="#111" stroke-width="2"/>
<text x="364.0" y="833" font-size="13" font-weight="bold" fill="#111" text-anchor="middle">3</text>
<line x1="412.0" y1="811" x2="412.0" y2="815.5" stroke="#111" stroke-width="2"/>
<text x="412.0" y="833" font-size="13" font-weight="bold" fill="#111" text-anchor="middle">4</text>
<line x1="460.0" y1="811" x2="460.0" y2="815.5" stroke="#111" stroke-width="2"/>
<text x="460.0" y="833" font-size="13" font-weight="bold" fill="#111" text-anchor="middle">5</text>
<line x1="508.0" y1="811" x2="508.0" y2="815.5" stroke="#111" stroke-width="2"/>
<text x="508.0" y="833" font-size="13" font-weight="bold" fill="#111" text-anchor="middle">6</text>
<line x1="556.0" y1="811" x2="556.0" y2="815.5" stroke="#111" stroke-width="2"/>
<text x="556.0" y="833" font-size="13" font-weight="bold" fill="#111" text-anchor="middle">7</text>
<line x1="604.0" y1="811" x2="604.0" y2="815.5" stroke="#111" stroke-width="2"/>
<text x="604.0" y="833" font-size="13" font-weight="bold" fill="#111" text-anchor="middle">8</text>
<rect x="123" y="836" width="192" height="19.4" fill="#ebe8ec"/>
<text x="219.0" y="850" font-size="10" fill="#a9a6aa" text-anchor="middle">control level, mean ± 2SD</text>
<text x="312.8" y="872" font-size="19.1" font-weight="bold" fill="#111">z-score</text>
<text x="14.8" y="473.4" font-size="29.5" font-weight="bold" fill="#111">b</text>
<text x="122.8" y="472.9" font-size="20" font-weight="bold" fill="#111">Warm sensation threshold vs ctrl (control) mean</text>
<path d="M611.2 600.5 H620.7 V773.3 H611.2" fill="none" stroke="#4a4a4a" stroke-width="1.2"/>
<text x="624.5" y="690.4" font-size="15" font-weight="bold" fill="#111">**</text>
<path d="M628.5 543.4 H638.6 V716.5 H628.5" fill="none" stroke="#4a4a4a" stroke-width="1.2"/>
<text x="642.3" y="633.3" font-size="15" font-weight="bold" fill="#111">****</text>
<path d="M647.8 543.4 H656.7 V600.5 H647.8" fill="none" stroke="#4a4a4a" stroke-width="1.2"/>
<text x="660.7" y="575.0" font-size="15" font-weight="bold" fill="#111">****</text>
</svg>
</body></html>
